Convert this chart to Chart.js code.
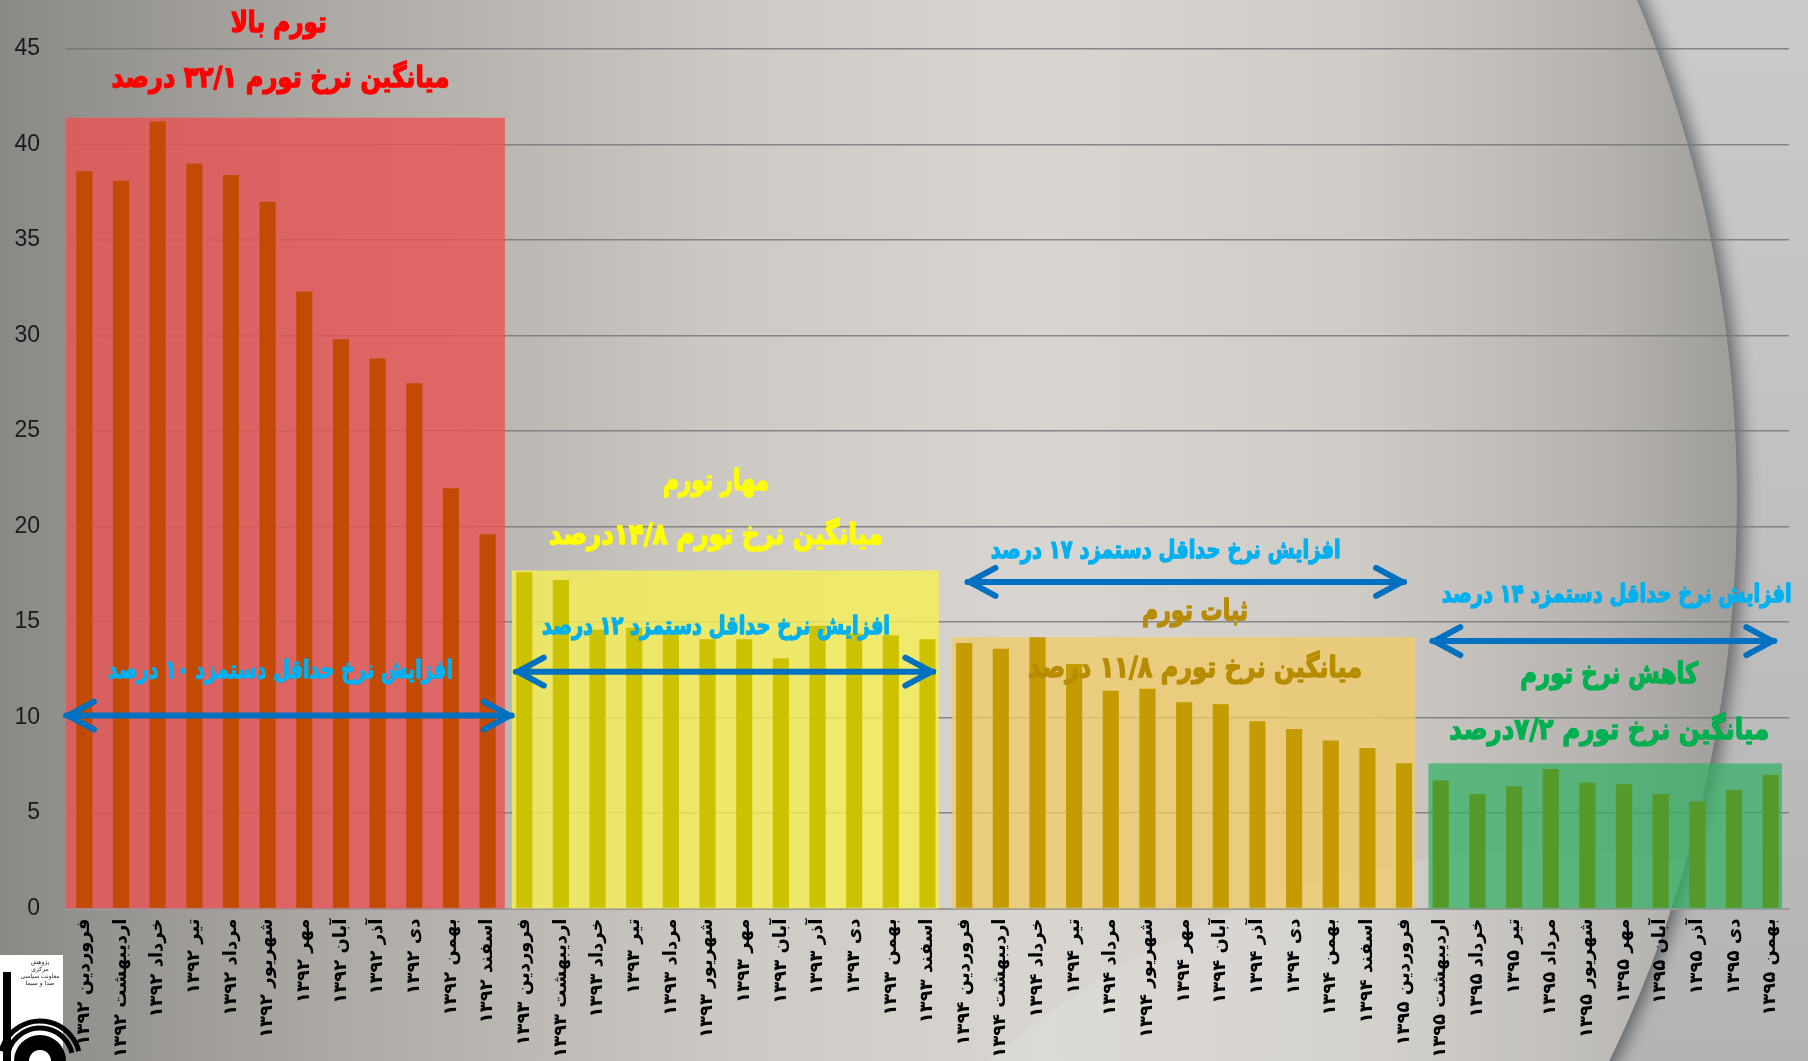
<!DOCTYPE html>
<html lang="fa">
<head>
<meta charset="utf-8">
<title>نرخ تورم و حداقل دستمزد ۱۳۹۲ تا ۱۳۹۵</title>
<script src="https://cdn.jsdelivr.net/npm/chart.js@4.4.0/dist/chart.umd.min.js"></script>
<style>
  html, body { margin: 0; padding: 0; background: #b9b9b9; }
  canvas { display: block; }
</style>
</head>
<body>
<canvas id="chart" width="1808" height="1061"></canvas>
<script>
'use strict';

// categories
const months = ['فروردین', 'اردیبهشت', 'خرداد', 'تیر', 'مرداد', 'شهریور',
                'مهر', 'آبان', 'آذر', 'دی', 'بهمن', 'اسفند'];
const years = ['۱۳۹۲', '۱۳۹۳', '۱۳۹۴', '۱۳۹۵'];

// monthly inflation rate (%)
const inflation1392 = [38.6, 38.1, 41.2, 39.0, 38.4, 37.0, 32.3, 29.8, 28.8, 27.5, 22.0, 19.6];
const inflation1393 = [17.6, 17.2, 14.6, 14.7, 14.4, 14.1, 14.1, 13.1, 14.8, 14.4, 14.3, 14.1];
const inflation1394 = [13.9, 13.6, 14.2, 12.8, 11.4, 11.5, 10.8, 10.7, 9.8, 9.4, 8.8, 8.4];
const inflation1395 = [7.6, 6.7, 6.0, 6.4, 7.3, 6.6, 6.5, 6.0, 5.6, 6.2, 7.0];

// periods (first / last category index), box height, average, wage raise
const periodStart = [0, 12, 24, 37];
const periodEnd = [11, 23, 36, 46];
const periodTop = [41.4, 17.7, 14.2, 7.6];
const periodAvg = ['۳۲/۱', '۱۴/۸', '۱۱/۸', '۷/۲'];
const wageRaise = ['۱۰', '۱۲', '۱۷', '۱۴'];
const periodName = ['تورم بالا', 'مهار تورم', 'ثبات تورم', 'کاهش نرخ تورم'];

// y axis
const yMin = 0;
const yMax = 45;
const yStep = 5;

const labels = [];
years.forEach(yr => months.forEach(m => labels.push(m + ' ' + yr)));
labels.length = 47; // فروردین ۱۳۹۲ .. بهمن ۱۳۹۵

const values = [].concat(inflation1392, inflation1393, inflation1394, inflation1395);

// styles
const barColors = ['#c24a02', '#cdc200', '#c49b00', '#55992b'];
const boxColors = ['rgba(232, 84, 84, 0.8)', 'rgba(246, 240, 84, 0.8)',
                   'rgba(240, 202, 104, 0.78)', 'rgba(50, 178, 100, 0.72)'];
const cyan = '#00b0f0';

function periodOf(i) {
  let p = 0;
  periodStart.forEach((s, k) => { if (i >= s) p = k; });
  return p;
}

// text notes: [text, category position, value, colour, max width, font size]
const notes = [
  [periodName[0], 5.3, 46.3, '#ff0000', 96, 29],
  ['میانگین نرخ تورم ' + periodAvg[0] + ' درصد', 5.35, 43.4, '#ff0000', 338, 29],
  ['افزایش نرخ حداقل دستمزد ' + wageRaise[0] + ' درصد', 5.35, 12.4, cyan, 345, 25],
  [periodName[1], 17.23, 22.3, '#ffff00', 106, 29],
  ['میانگین نرخ تورم ' + periodAvg[1] + 'درصد', 17.23, 19.5, '#ffff00', 334, 29],
  ['افزایش نرخ حداقل دستمزد ' + wageRaise[1] + ' درصد', 17.23, 14.7, cyan, 348, 25],
  ['افزایش نرخ حداقل دستمزد ' + wageRaise[2] + ' درصد', 29.5, 18.7, cyan, 350, 25],
  [periodName[2], 30.3, 15.5, '#b78c00', 106, 29],
  ['میانگین نرخ تورم ' + periodAvg[2] + ' درصد', 30.3, 12.5, '#b78c00', 334, 29],
  ['افزایش نرخ حداقل دستمزد ' + wageRaise[3] + ' درصد', 41.8, 16.4, cyan, 350, 25],
  [periodName[3], 41.6, 12.2, '#00b050', 178, 29],
  ['میانگین نرخ تورم ' + periodAvg[3] + 'درصد', 41.6, 9.25, '#00b050', 320, 29]
];
// double arrows: [from, to, value]
const arrowSpans = [[-0.5, 11.66, 10.1], [11.77, 23.16, 12.4], [24.09, 36.0, 17.1], [36.77, 46.1, 14.0]];

const backdrop = {
  id: 'backdrop',
  beforeDraw(chart) {
    const { ctx, width, height } = chart;
    ctx.save();
    let g = ctx.createLinearGradient(0, 0, 0, height);
    g.addColorStop(0, '#cbcbcb');
    g.addColorStop(1, '#b4b4b4');
    ctx.fillStyle = g;
    ctx.fillRect(0, 0, width, height);

    // the large sheet with a shadowed edge on the right
    ctx.beginPath();
    ctx.ellipse(737, 500, 1000, 1147, 0, 0, Math.PI * 2);
    g = ctx.createLinearGradient(0, 0, 1740, 0);
    g.addColorStop(0, '#8b8986');
    g.addColorStop(0.18, '#aba8a4');
    g.addColorStop(0.42, '#cdcac6');
    g.addColorStop(0.6, '#d9d6d2');
    g.addColorStop(0.78, '#cfccc8');
    g.addColorStop(0.92, '#b6b3b0');
    g.addColorStop(1, '#9e9c99');
    ctx.fillStyle = g;
    ctx.shadowColor = 'rgba(0, 0, 0, 0.5)';
    ctx.shadowBlur = 18;
    ctx.shadowOffsetX = 6;
    ctx.fill();
    ctx.shadowColor = 'transparent';

    ctx.save();
    ctx.clip();
    ctx.beginPath();
    ctx.arc(1550, 1700, 850, 0, Math.PI * 2);
    ctx.fillStyle = 'rgba(255, 255, 255, 0.12)';
    ctx.fill();
    ctx.restore();

    // logo
    ctx.fillStyle = '#ffffff';
    ctx.fillRect(0, 955, 63, 106);
    ctx.fillStyle = '#000000';
    ctx.fillRect(3, 972, 8, 89);
    ctx.beginPath();
    ctx.arc(40, 1061, 26, Math.PI, 0);
    ctx.fill();
    ctx.strokeStyle = '#000000';
    ctx.lineWidth = 5;
    [33, 40].forEach(r => {
      ctx.beginPath();
      ctx.arc(40, 1061, r, Math.PI * 1.08, Math.PI * 1.92);
      ctx.stroke();
    });
    ctx.fillStyle = '#ffffff';
    ctx.beginPath();
    ctx.arc(40, 1061, 11, Math.PI, 0);
    ctx.fill();
    ctx.fillStyle = '#222';
    ctx.font = '6px "DejaVu Sans"';
    ctx.textAlign = 'center';
    ['پژوهش', 'مرکزی', 'معاونت سیاسی', 'صدا و سیما'].forEach((t, i) => ctx.fillText(t, 40, 964 + i * 7));
    ctx.restore();
  }
};

const periodBoxes = {
  id: 'periodBoxes',
  beforeDatasetsDraw(chart) {
    const { ctx, scales: { x, y } } = chart;
    const half = (x.getPixelForValue(1) - x.getPixelForValue(0)) / 2;
    ctx.save();
    periodStart.forEach((s, k) => {
      const left = x.getPixelForValue(s) - half + (k === 0 ? 0 : 6);
      const right = x.getPixelForValue(periodEnd[k]) + half - (k === 0 ? 1 : 7);
      const top = y.getPixelForValue(periodTop[k]);
      const bottom = y.getPixelForValue(0);
      ctx.fillStyle = boxColors[k];
      ctx.fillRect(left, top, right - left, bottom - top);
    });
    ctx.restore();
  }
};

const annotations = {
  id: 'annotations',
  afterDatasetsDraw(chart) {
    const { ctx, scales: { x, y } } = chart;
    ctx.save();
    // arrows
    ctx.strokeStyle = '#0070c0';
    ctx.lineWidth = 6;
    ctx.lineCap = 'round';
    ctx.lineJoin = 'round';
    arrowSpans.forEach(([a, b, v]) => {
      const x1 = x.getPixelForValue(a);
      const x2 = x.getPixelForValue(b);
      const py = y.getPixelForValue(v);
      ctx.beginPath();
      ctx.moveTo(x1, py);
      ctx.lineTo(x2, py);
      ctx.moveTo(x1 + 28, py - 14);
      ctx.lineTo(x1 + 2, py);
      ctx.lineTo(x1 + 28, py + 14);
      ctx.moveTo(x2 - 28, py - 14);
      ctx.lineTo(x2 - 2, py);
      ctx.lineTo(x2 - 28, py + 14);
      ctx.stroke();
    });
    // texts: set height by font size, squeeze horizontally to the width
    ctx.direction = 'rtl';
    ctx.textAlign = 'center';
    ctx.textBaseline = 'middle';
    ctx.lineJoin = 'round';
    notes.forEach(([text, c, v, color, w, size]) => {
      ctx.font = 'bold ' + size + 'px "DejaVu Sans"';
      const sx = Math.min(1, w / ctx.measureText(text).width);
      ctx.save();
      ctx.translate(x.getPixelForValue(c), y.getPixelForValue(v));
      ctx.scale(sx, 1);
      ctx.fillStyle = color;
      ctx.strokeStyle = color;
      ctx.lineWidth = 1.4;
      ctx.fillText(text, 0, 0);
      ctx.strokeText(text, 0, 0);
      ctx.restore();
    });
    ctx.restore();
  }
};

const chart = new Chart(document.getElementById('chart').getContext('2d'), {
  type: 'bar',
  data: {
    labels: labels,
    datasets: [{
      data: values,
      backgroundColor: ctx => barColors[periodOf(ctx.dataIndex)],
      borderWidth: 0,
      barPercentage: 0.44,
      categoryPercentage: 1
    }]
  },
  options: {
    responsive: false,
    animation: false,
    devicePixelRatio: 1,
    layout: { padding: { left: 0, top: 49, right: 19, bottom: 0 } },
    plugins: {
      legend: { display: false },
      tooltip: { enabled: false }
    },
    scales: {
      x: {
        grid: { display: false, drawTicks: false },
        border: { display: true, color: '#9a9a9a', width: 2 },
        ticks: {
          autoSkip: false,
          minRotation: 90,
          maxRotation: 90,
          padding: 10,
          color: '#000000',
          font: { family: 'DejaVu Sans', size: 18, weight: 'bold' }
        },
        afterFit: scale => { scale.height = 152.5; }
      },
      y: {
        min: yMin,
        max: yMax,
        grid: { color: 'rgba(115, 115, 115, 0.8)', lineWidth: 1.5, drawTicks: false },
        border: { display: false },
        ticks: {
          stepSize: yStep,
          padding: 26,
          color: '#1a1a1a',
          font: { family: 'Liberation Sans', size: 23 }
        },
        afterFit: scale => { scale.width = 66; }
      }
    }
  },
  plugins: [backdrop, periodBoxes, annotations]
});
</script>
</body>
</html>
